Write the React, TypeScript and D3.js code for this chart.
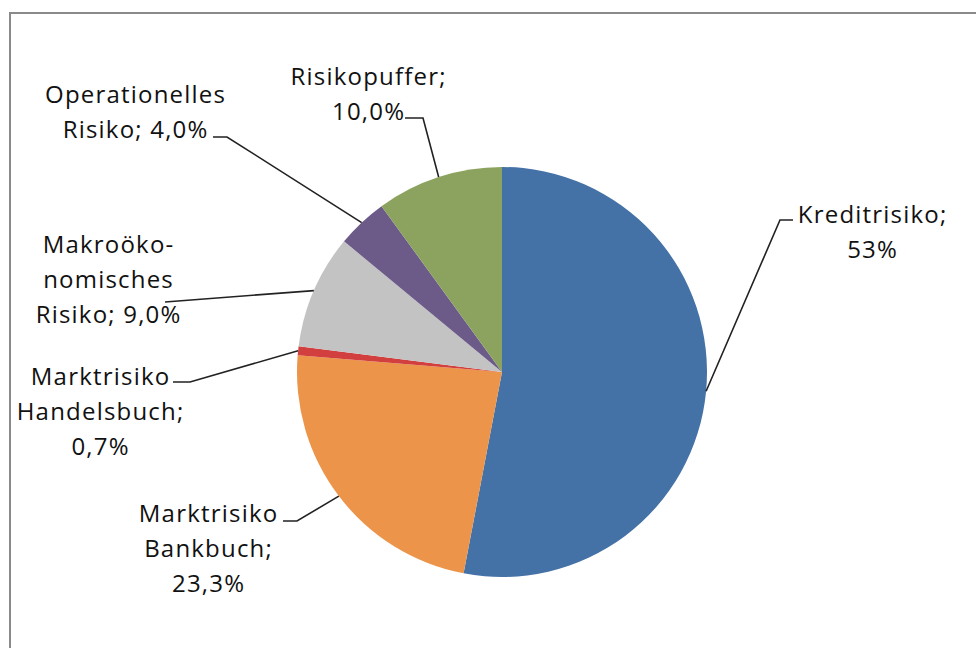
import * as React from 'react'
import * as d3 from 'd3'

// slice order: clockwise from 12 o'clock
const categories = [
  'Kreditrisiko',
  'Marktrisiko Bankbuch',
  'Marktrisiko Handelsbuch',
  'Makroökonomisches Risiko',
  'Operationelles Risiko',
  'Risikopuffer',
]
const shares = [53, 23.3, 0.7, 9.0, 4.0, 10.0]
const labelLines = [
  ['Kreditrisiko;', '53%'],
  ['Marktrisiko', 'Bankbuch;', '23,3%'],
  ['Marktrisiko', 'Handelsbuch;', '0,7%'],
  ['Makroöko-', 'nomisches', 'Risiko; 9,0%'],
  ['Operationelles', 'Risiko; 4,0%'],
  ['Risikopuffer;', '10,0%'],
]
const colors = ['#4471a6', '#eb944a', '#d23f3f', '#c3c3c3', '#6c5a88', '#8ba35e']

// label placement (elbow point, end of leader, text centre, first line y)
const labelLayout = [
  { elbow: [780, 220], end: [793, 220], tx: 872, ty: 213 },
  { elbow: [297, 521], end: [283, 521], tx: 208, ty: 512 },
  { elbow: [190, 382], end: [173, 382], tx: 100, ty: 375 },
  { elbow: [165, 302], end: [165, 302], tx: 108, ty: 243 },
  { elbow: [227, 137], end: [213, 137], tx: 135, ty: 93 },
  { elbow: [423, 118], end: [405, 118], tx: 368, ty: 75 },
]

const App = () => {
  const width = 976
  const height = 648
  const cx = 502
  const cy = 372
  const r = 205
  const lineH = 35

  const pie = d3.pie<number>().sort(null).value(d => d)(shares)
  const arc = d3.arc<d3.PieArcDatum<number>>().innerRadius(0).outerRadius(r)

  return (
    <svg width={width} height={height} style={{ position: 'absolute', left: 0, top: 0 }}>
      <rect x={0} y={0} width={width} height={height} fill="#fff" />
      <path d={`M10,${height} V13 H${width}`} fill="none" stroke="#8a8a8a" strokeWidth={2} />
      <g transform={`translate(${cx},${cy})`}>
        {pie.map((slice, i) => (
          <path key={categories[i]} d={arc(slice) || ''} fill={colors[i]} />
        ))}
      </g>
      {pie.map((slice, i) => {
        const a = (slice.startAngle + slice.endAngle) / 2
        const sx = cx + r * Math.sin(a)
        const sy = cy - r * Math.cos(a)
        const L = labelLayout[i]
        return (
          <g key={'lbl' + i}>
            <polyline
              points={`${sx},${sy} ${L.elbow[0]},${L.elbow[1]} ${L.end[0]},${L.end[1]}`}
              fill="none"
              stroke="#222"
              strokeWidth={1.6}
            />
            {labelLines[i].map((t, j) => (
              <text
                key={j}
                x={L.tx + 0.6}
                y={L.ty + j * lineH}
                textAnchor="middle"
                dominantBaseline="central"
                fontFamily="'Open Sans', sans-serif"
                fontSize={24}
                letterSpacing={1.2}
                fill="#111"
              >
                {t}
              </text>
            ))}
          </g>
        )
      })}
    </svg>
  )
}

export default App
